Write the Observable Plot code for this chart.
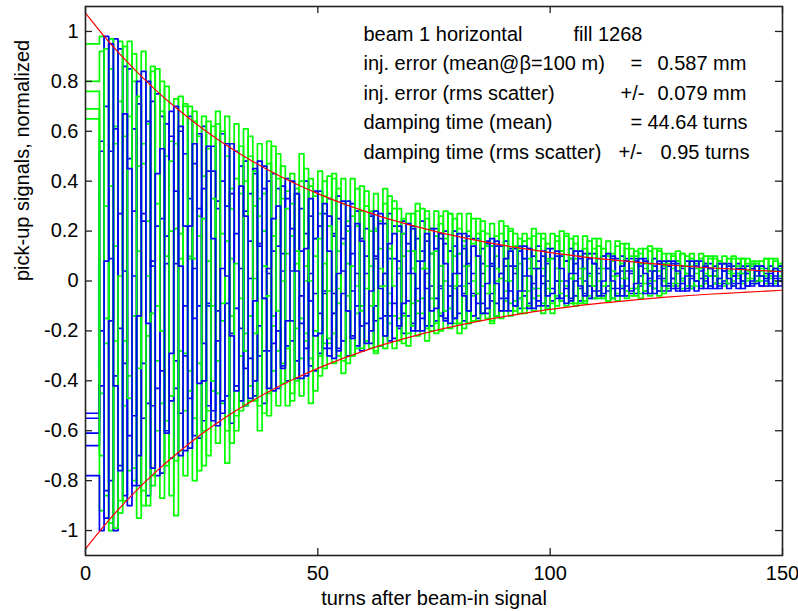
<!DOCTYPE html>
<html><head><meta charset="utf-8">
<script src="https://cdn.jsdelivr.net/npm/d3@7"></script>
<script src="https://cdn.jsdelivr.net/npm/@observablehq/plot@0.6"></script>
<style>
html,body{margin:0;padding:0;background:#fff;}
#chart{width:798px;height:611px;overflow:hidden;}
</style></head><body><div id="chart"></div>
<script>
// pick-up signals (normalized), one value per turn, turns 0..150
const blue1 = [
-0.55,-0.55,-0.55,0.56,0.70,-0.80,-0.38,0.93,0.04,-0.90,0.28,0.71,-0.55,-0.49,0.72,0.22,-0.77,0.07,0.68,-0.32,-0.53,0.51,0.33,-0.62,-0.10,
0.62,-0.10,-0.56,0.32,0.40,-0.46,-0.21,0.52,0.05,-0.50,0.16,0.43,-0.30,-0.28,0.40,0.12,-0.43,0.04,0.41,-0.16,-0.32,0.29,0.19,-0.34,-0.05,
0.36,-0.05,-0.30,0.19,0.25,-0.24,-0.12,0.31,0.03,-0.28,0.10,0.26,-0.16,-0.15,0.23,0.09,-0.23,0.03,0.24,-0.08,-0.17,0.17,0.12,-0.18,-0.02,
0.21,-0.03,-0.16,0.12,0.14,-0.13,-0.05,0.18,0.03,-0.15,0.07,0.15,-0.08,-0.09,0.14,0.06,-0.12,0.03,0.14,-0.04,-0.09,0.10,0.08,-0.10,0.00,
0.13,0.00,-0.08,0.08,0.09,-0.06,-0.03,0.11,0.03,-0.07,0.05,0.10,-0.04,-0.03,0.09,0.04,-0.06,0.03,0.09,-0.01,-0.04,0.07,0.06,-0.04,0.01,
0.08,0.01,-0.04,0.06,0.06,-0.03,0.00,0.08,0.02,-0.03,0.04,0.07,-0.01,-0.01,0.06,0.03,-0.03,0.03,0.07,0.00,-0.02,0.05,0.04,-0.02,0.01,
0.06];
const blue2 = [
-0.66,-0.66,-0.66,0.52,-0.95,-0.16,0.97,-0.19,-0.86,0.49,0.61,-0.70,-0.33,0.80,0.06,-0.78,0.25,0.63,-0.48,-0.43,0.62,0.22,-0.67,0.05,0.59,
-0.25,-0.50,0.44,0.29,-0.53,-0.09,0.55,-0.11,-0.48,0.28,0.35,-0.40,-0.18,0.46,0.03,-0.44,0.14,0.38,-0.26,-0.24,0.35,0.12,-0.38,0.03,0.36,
-0.13,-0.27,0.26,0.18,-0.28,-0.05,0.32,-0.04,-0.26,0.17,0.21,-0.20,-0.10,0.27,0.03,-0.24,0.09,0.22,-0.13,-0.14,0.21,0.08,-0.20,0.03,0.21,
-0.07,-0.14,0.15,0.12,-0.15,-0.02,0.19,-0.01,-0.14,0.10,0.13,-0.11,-0.05,0.16,0.03,-0.12,0.06,0.13,-0.07,-0.06,0.13,0.05,-0.10,0.02,0.13,
-0.03,-0.07,0.10,0.08,-0.08,0.00,0.12,0.00,-0.07,0.07,0.09,-0.05,-0.02,0.10,0.03,-0.06,0.04,0.09,-0.03,-0.02,0.08,0.04,-0.05,0.02,0.08,
-0.01,-0.03,0.07,0.05,-0.04,0.01,0.08,0.01,-0.03,0.05,0.06,-0.02,0.00,0.07,0.02,-0.03,0.03,0.06,-0.01,-0.01,0.06,0.03,-0.02,0.02,0.06,
0.00];
const blue3 = [
-0.78,-0.78,-0.78,-1.00,0.08,0.95,-0.42,-0.76,0.67,0.45,-0.82,-0.14,0.84,-0.17,-0.75,0.43,0.53,-0.61,-0.29,0.70,0.06,-0.68,0.22,0.55,-0.41,
-0.40,0.54,0.17,-0.58,0.05,0.55,-0.22,-0.44,0.38,0.26,-0.47,-0.08,0.48,-0.07,-0.43,0.25,0.30,-0.35,-0.16,0.40,0.04,-0.39,0.13,0.33,-0.22,
-0.21,0.31,0.12,-0.31,0.03,0.32,-0.12,-0.23,0.23,0.16,-0.25,-0.04,0.28,-0.03,-0.22,0.15,0.19,-0.18,-0.09,0.23,0.03,-0.20,0.08,0.19,-0.12,
-0.11,0.19,0.07,-0.17,0.03,0.19,-0.06,-0.12,0.14,0.10,-0.13,-0.01,0.17,-0.01,-0.12,0.09,0.12,-0.10,-0.04,0.14,0.02,-0.11,0.05,0.12,-0.06,
-0.05,0.12,0.05,-0.09,0.03,0.12,-0.02,-0.06,0.09,0.07,-0.06,0.00,0.11,0.00,-0.06,0.06,0.08,-0.04,-0.01,0.09,0.03,-0.05,0.04,0.08,-0.02,
-0.02,0.08,0.04,-0.04,0.02,0.08,0.00,-0.03,0.06,0.05,-0.03,0.01,0.07,0.01,-0.02,0.05,0.05,-0.02,0.00,0.06,0.02,-0.02,0.03,0.05,0.00,
0.00];
const blue4 = [
-0.53,-0.53,-0.53,-0.20,-0.84,0.52,0.61,-0.74,-0.33,0.85,0.02,-0.82,0.27,0.64,-0.50,-0.43,0.66,0.18,-0.71,0.07,0.60,-0.30,-0.47,0.47,0.29,
-0.56,-0.09,0.54,-0.12,-0.48,0.30,0.35,-0.42,-0.19,0.48,0.01,-0.46,0.15,0.37,-0.28,-0.25,0.37,0.11,-0.40,0.04,0.35,-0.17,-0.27,0.26,0.17,
-0.29,-0.04,0.33,-0.05,-0.27,0.17,0.22,-0.22,-0.10,0.28,0.03,-0.25,0.09,0.23,-0.14,-0.14,0.22,0.08,-0.21,0.03,0.22,-0.08,-0.15,0.16,0.11,
-0.16,-0.02,0.20,-0.02,-0.15,0.11,0.13,-0.12,-0.05,0.17,0.03,-0.13,0.06,0.14,-0.07,-0.07,0.13,0.06,-0.11,0.02,0.13,-0.03,-0.08,0.10,0.07,
-0.08,0.00,0.12,0.00,-0.07,0.07,0.09,-0.05,-0.02,0.11,0.03,-0.06,0.05,0.09,-0.03,-0.03,0.09,0.04,-0.05,0.02,0.09,-0.01,-0.03,0.07,0.05,
-0.04,0.01,0.08,0.01,-0.03,0.05,0.06,-0.02,0.00,0.07,0.02,-0.03,0.04,0.06,-0.01,-0.01,0.06,0.03,-0.02,0.02,0.06,0.00,-0.01,0.05,0.04,
-0.01];
const blue5 = [
-0.61,-0.61,-0.61,-0.42,0.98,0.09,-1.00,0.27,0.86,-0.62,-0.54,0.80,0.24,-0.86,0.08,0.75,-0.36,-0.60,0.58,0.36,-0.70,-0.10,0.66,-0.15,-0.63,
0.37,0.44,-0.52,-0.24,0.59,0.02,-0.57,0.19,0.46,-0.35,-0.31,0.45,0.14,-0.49,0.05,0.43,-0.20,-0.34,0.33,0.21,-0.39,-0.06,0.40,-0.08,-0.36,
0.22,0.27,-0.27,-0.13,0.34,0.04,-0.30,0.11,0.28,-0.18,-0.17,0.27,0.10,-0.26,0.03,0.27,-0.09,-0.19,0.19,0.15,-0.20,-0.03,0.24,-0.03,-0.18,
0.13,0.17,-0.15,-0.06,0.20,0.03,-0.16,0.07,0.17,-0.09,-0.09,0.16,0.07,-0.14,0.03,0.16,-0.04,-0.10,0.12,0.09,-0.11,-0.01,0.14,-0.01,-0.10,
0.09,0.10,-0.07,-0.03,0.13,0.03,-0.08,0.05,0.11,-0.04,-0.04,0.10,0.05,-0.07,0.03,0.10,-0.02,-0.05,0.08,0.06,-0.05,0.01,0.09,0.01,-0.04,
0.06,0.07,-0.03,-0.01,0.08,0.02,-0.04,0.04,0.07,-0.02,-0.01,0.07,0.04,-0.03,0.02,0.07,0.00,-0.02,0.05,0.04,-0.02,0.01,0.06,0.01,-0.02,
0.04];
const green1 = [
0.95,0.95,0.95,0.98,-0.25,-0.97,0.62,0.72,-0.88,-0.38,0.91,0.12,-0.90,0.24,0.84,-0.60,-0.49,0.78,0.20,-0.94,0.09,0.70,-0.36,-0.55,0.58,
0.42,-0.70,-0.10,0.63,-0.16,-0.60,0.37,0.41,-0.52,-0.21,0.58,0.01,-0.50,0.20,0.47,-0.36,-0.28,0.46,0.11,-0.48,0.07,0.40,-0.21,-0.31,0.34,
0.27,-0.35,-0.04,0.43,-0.09,-0.32,0.24,0.26,-0.27,-0.10,0.36,0.06,-0.28,0.13,0.31,-0.17,-0.14,0.29,0.10,-0.26,0.05,0.28,-0.07,-0.19,0.21,
0.18,-0.20,0.00,0.27,-0.03,-0.17,0.16,0.20,-0.16,-0.05,0.24,0.06,-0.16,0.10,0.19,-0.08,-0.09,0.19,0.07,-0.13,0.05,0.18,-0.03,-0.09,0.15,
0.13,-0.10,0.00,0.19,0.01,-0.09,0.12,0.13,-0.06,-0.02,0.17,0.05,-0.08,0.08,0.14,-0.03,-0.04,0.13,0.08,-0.07,0.05,0.12,0.00,-0.04,0.11,
0.08,-0.02,0.03,0.11,0.03,-0.02,0.08,0.09,-0.01,0.02,0.10,0.05,-0.01,0.06,0.09,0.01,0.00,0.09,0.06,-0.01,0.04,0.09,0.02,0.00,0.07,
0.06];
const green2 = [
0.76,0.76,0.76,-0.45,-0.86,0.85,0.55,-0.93,-0.24,0.96,-0.14,-0.95,0.55,0.63,-0.78,-0.32,0.80,0.10,-0.86,0.21,0.74,-0.52,-0.44,0.68,0.18,
-0.74,0.08,0.62,-0.32,-0.49,0.50,0.29,-0.60,-0.07,0.61,-0.14,-0.48,0.33,0.35,-0.45,-0.18,0.51,0.00,-0.50,0.18,0.37,-0.31,-0.24,0.41,0.10,
-0.38,0.07,0.42,-0.13,-0.30,0.31,0.20,-0.30,-0.02,0.38,-0.03,-0.27,0.21,0.24,-0.22,-0.09,0.32,0.05,-0.25,0.12,0.27,-0.13,-0.13,0.25,0.11,
-0.21,0.06,0.28,-0.06,-0.17,0.21,0.14,-0.17,0.00,0.25,-0.02,-0.15,0.14,0.18,-0.12,-0.04,0.21,0.05,-0.13,0.09,0.17,-0.07,-0.06,0.17,0.08,
-0.13,0.05,0.20,-0.02,-0.09,0.15,0.10,-0.08,0.02,0.17,0.00,-0.07,0.11,0.11,-0.05,-0.02,0.15,0.05,-0.06,0.07,0.13,-0.02,-0.03,0.12,0.06,
-0.03,0.05,0.12,0.01,-0.02,0.09,0.07,-0.02,0.03,0.10,0.02,-0.01,0.07,0.09,0.00,0.02,0.09,0.04,-0.01,0.06,0.08,0.01,0.01,0.08,0.05,
0.00];
const green3 = [
0.65,0.65,0.65,-0.70,0.93,0.38,-0.99,0.02,0.94,-0.47,-0.75,0.74,0.47,-0.90,-0.13,0.85,-0.20,-0.74,0.48,0.55,-0.68,-0.29,0.70,0.09,-0.76,
0.25,0.64,-0.40,-0.45,0.60,0.16,-0.65,0.07,0.54,-0.28,-0.42,0.44,0.26,-0.53,-0.06,0.54,-0.12,-0.41,0.29,0.31,-0.40,-0.15,0.45,0.00,-0.44,
0.17,0.40,-0.23,-0.21,0.37,0.15,-0.33,0.06,0.37,-0.12,-0.24,0.28,0.20,-0.26,-0.02,0.34,-0.02,-0.24,0.19,0.23,-0.18,-0.08,0.29,0.05,-0.20,
0.12,0.26,-0.12,-0.11,0.25,0.11,-0.19,0.06,0.25,-0.05,-0.13,0.19,0.14,-0.14,0.01,0.22,0.00,-0.12,0.13,0.16,-0.10,-0.03,0.19,0.05,-0.11,
0.09,0.18,-0.05,-0.06,0.17,0.09,-0.09,0.05,0.16,-0.02,-0.06,0.13,0.10,-0.07,0.02,0.15,0.01,-0.06,0.10,0.11,-0.04,0.00,0.13,0.04,-0.05,
0.07,0.11,-0.01,0.00,0.10,0.06,-0.02,0.05,0.10,0.02,-0.01,0.08,0.07,-0.01,0.03,0.09,0.03,0.00,0.07,0.07,0.00,0.02,0.09,0.04,0.00,
0.05];
const green4 = [
0.80,0.80,0.80,0.92,0.30,-1.00,0.14,0.96,-0.50,-0.76,0.80,0.46,-0.84,-0.22,0.86,-0.10,-0.87,0.50,0.56,-0.72,-0.28,0.71,0.10,-0.80,0.26,
0.66,-0.52,-0.44,0.68,0.19,-0.73,0.09,0.63,-0.30,-0.50,0.50,0.30,-0.60,-0.07,0.56,-0.14,-0.50,0.33,0.36,-0.45,-0.19,0.51,0.00,-0.49,0.17,
0.44,-0.25,-0.25,0.41,0.12,-0.37,0.07,0.41,-0.13,-0.27,0.30,0.20,-0.29,-0.02,0.37,-0.05,-0.27,0.20,0.25,-0.21,-0.09,0.31,0.05,-0.24,0.11,
0.28,-0.13,-0.15,0.27,0.10,-0.21,0.06,0.27,-0.06,-0.16,0.20,0.14,-0.17,0.00,0.24,0.00,-0.14,0.14,0.17,-0.11,-0.04,0.21,0.05,-0.13,0.09,
0.19,-0.06,-0.08,0.18,0.09,-0.10,0.05,0.18,-0.02,-0.07,0.14,0.10,-0.08,0.02,0.16,0.01,-0.07,0.10,0.12,-0.05,-0.01,0.14,0.04,-0.06,0.07,
0.11,-0.01,-0.02,0.11,0.06,-0.03,0.05,0.11,0.01,-0.02,0.09,0.08,-0.02,0.03,0.10,0.03,-0.01,0.07,0.08,0.00,0.02,0.09,0.04,-0.01,0.06,
0.08];
const green5 = [
0.69,0.69,0.69,-0.92,-0.15,0.97,-0.24,-0.88,0.58,0.66,-0.80,-0.35,0.92,0.02,-0.82,0.31,0.68,-0.56,-0.46,0.73,0.19,-0.78,0.09,0.64,-0.33,
-0.60,0.53,0.33,-0.65,-0.09,0.66,-0.14,-0.54,0.35,0.40,-0.48,-0.21,0.55,0.06,-0.54,0.18,0.41,-0.33,-0.27,0.43,0.12,-0.46,0.06,0.38,-0.20,
-0.30,0.34,0.22,-0.33,-0.03,0.41,-0.06,-0.30,0.22,0.28,-0.24,-0.10,0.35,0.05,-0.27,0.13,0.29,-0.15,-0.14,0.27,0.12,-0.22,0.05,0.28,-0.07,
-0.17,0.23,0.17,-0.19,-0.02,0.27,-0.02,-0.17,0.15,0.19,-0.13,-0.05,0.23,0.05,-0.15,0.09,0.20,-0.08,-0.07,0.19,0.09,-0.12,0.05,0.19,-0.03,
-0.09,0.16,0.12,-0.10,0.01,0.18,0.01,-0.09,0.11,0.13,-0.07,-0.02,0.16,0.04,-0.08,0.07,0.13,-0.03,-0.03,0.13,0.07,-0.06,0.04,0.13,0.00,
-0.02,0.10,0.08,-0.03,0.03,0.11,0.03,-0.02,0.07,0.09,-0.01,0.01,0.10,0.04,-0.02,0.06,0.09,0.01,0.01,0.08,0.05,-0.01,0.04,0.09,0.02,
0.00];

// fitted damping envelope (red), sampled every 5 turns
const envTurns = [0,5,10,15,20,25,30,35,40,45,50,55,60,65,70,75,80,85,90,95,100,105,110,115,120,125,130,135,140,145,150];
const envUpper = [1.073,0.959,0.858,0.767,0.686,0.613,0.548,0.490,0.438,0.392,0.350,0.313,0.280,0.250,0.224,0.200,0.179,0.160,0.143,0.128,0.114,0.102,0.091,0.082,0.073,0.065,0.058,0.052,0.047,0.042,0.037];
const envLower = [-1.073,-0.959,-0.858,-0.767,-0.686,-0.613,-0.548,-0.490,-0.438,-0.392,-0.350,-0.313,-0.280,-0.250,-0.224,-0.200,-0.179,-0.160,-0.143,-0.128,-0.114,-0.102,-0.091,-0.082,-0.073,-0.065,-0.058,-0.052,-0.047,-0.042,-0.037];

// axes
const xTicks = [0,50,100,150];
const xTickLabels = ["0","50","100","150"];
const yTicks = [-1,-0.8,-0.6,-0.4,-0.2,0,0.2,0.4,0.6,0.8,1];
const yTickLabels = ["-1","-0.8","-0.6","-0.4","-0.2","0","0.2","0.4","0.6","0.8","1"];
const xLabel = "turns after beam-in signal";
const yLabel = "pick-up signals, normalized";

// annotation
const annoLeft = ["beam 1 horizontal","inj. error (mean@\u03b2=100 m)","inj. error (rms scatter)","damping time (mean)","damping time (rms scatter)"];
const annoOp = ["","=","+/-","=","+/-"];
const annoVal = ["fill 1268","0.587 mm","0.079 mm","44.64 turns","0.95 turns"];

const W = 798, H = 611, mL = 85, mR = 16, mT = 6, mB = 56;
const innerW = W - mL - mR, innerH = H - mT - mB;
const tickLen = 7;
const axisColor = "#222";

const rows = vals => vals.map((v, i) => ({turn: i, value: v}));
const envRows = ys => ys.map((v, i) => ({turn: envTurns[i], value: v}));

const GREEN = "#00ff00", BLUE = "#0000ff";
const traces = [
  [green1, GREEN], [blue1, BLUE],
  [green4, GREEN], [blue4, BLUE],
  [green2, GREEN], [blue2, BLUE],
  [green5, GREEN], [blue5, BLUE],
  [green3, GREEN], [blue3, BLUE]
];

const marks = [];
for (const [vals, color] of traces) {
  marks.push(Plot.line(rows(vals), {x: "turn", y: "value", curve: "step-after", stroke: color, strokeWidth: 1.7, clip: true}));
}
marks.push(Plot.line(envRows(envUpper), {x: "turn", y: "value", curve: "monotone-x", stroke: "#ff0000", strokeWidth: 1.2, clip: true}));
marks.push(Plot.line(envRows(envLower), {x: "turn", y: "value", curve: "monotone-x", stroke: "#ff0000", strokeWidth: 1.2, clip: true}));

// inward ticks on all four sides
marks.push(Plot.ruleX(xTicks, {x: d => d, insetTop: innerH - tickLen, stroke: axisColor, strokeWidth: 1.3}));
marks.push(Plot.ruleX(xTicks, {x: d => d, insetBottom: innerH - tickLen, stroke: axisColor, strokeWidth: 1.3}));
marks.push(Plot.ruleY(yTicks, {y: d => d, insetRight: innerW - tickLen, stroke: axisColor, strokeWidth: 1.3}));
marks.push(Plot.ruleY(yTicks, {y: d => d, insetLeft: innerW - tickLen, stroke: axisColor, strokeWidth: 1.3}));
marks.push(Plot.frame({stroke: axisColor, strokeWidth: 1.6}));

marks.push(Plot.axisX(xTicks, {anchor: "bottom", tickSize: 0, tickPadding: 10, label: null,
  tickFormat: d => xTickLabels[xTicks.indexOf(d)]}));
marks.push(Plot.axisY(yTicks, {anchor: "left", tickSize: 0, tickPadding: 7, label: null,
  tickFormat: d => yTickLabels[yTicks.indexOf(d)]}));

marks.push(Plot.text([xLabel], {frameAnchor: "bottom", dy: 43, lineAnchor: "middle", fill: "#000"}));
marks.push(Plot.text([yLabel], {frameAnchor: "left", dx: -63, rotate: -90, lineAnchor: "middle", fill: "#000"}));

const opX = [0, 545, 535, 545, 533];
const valX = [488, 572, 572, 562, 575];
annoLeft.forEach((s, i) => {
  const dy = 27.6 + i * 29.5;
  marks.push(Plot.text([s], {frameAnchor: "top-left", dx: 278, dy, textAnchor: "start", lineAnchor: "middle", fill: "#000"}));
  if (annoOp[i]) marks.push(Plot.text([annoOp[i]], {frameAnchor: "top-left", dx: opX[i], dy, textAnchor: "start", lineAnchor: "middle", fill: "#000"}));
  marks.push(Plot.text([annoVal[i]], {frameAnchor: "top-left", dx: valX[i], dy, textAnchor: "start", lineAnchor: "middle", fill: "#000"}));
});

const chart = Plot.plot({
  width: W, height: H,
  marginLeft: mL, marginRight: mR, marginTop: mT, marginBottom: mB,
  x: {domain: [0, 150]},
  y: {domain: [-1.1, 1.1]},
  style: {fontFamily: "'Liberation Sans', Arial, sans-serif", fontSize: "20px", background: "#fff", color: "#000"},
  marks
});
document.getElementById("chart").appendChild(chart);
</script>
</body></html>
